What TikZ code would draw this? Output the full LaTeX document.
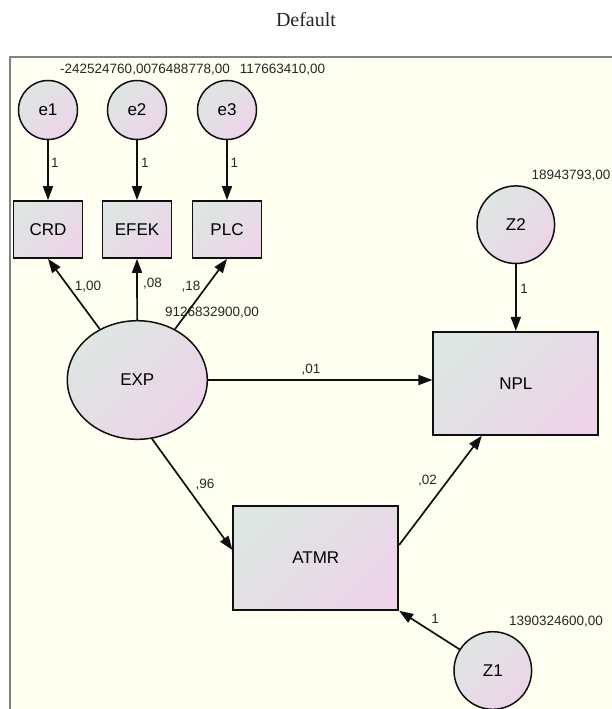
\documentclass[tikz,border=0pt]{standalone}
\usepackage{fontspec}
\setmainfont{Liberation Sans}
\newfontfamily\serifdef{Liberation Serif}
\usetikzlibrary{arrows.meta,shapes.geometric}
\definecolor{gA}{RGB}{221,230,226}
\definecolor{gB}{RGB}{237,212,233}
\definecolor{bgc}{RGB}{255,255,241}
\definecolor{framec}{RGB}{130,130,130}
\definecolor{lblc}{RGB}{40,40,40}
\definecolor{linec}{RGB}{15,15,15}
\begin{document}
\begin{tikzpicture}[x=1pt,y=-1pt,
  shadefill/.style={top color=gA,bottom color=gB,shading angle=45},
  obsbox/.style={rectangle,draw=linec,line width=1.7pt,shadefill,font=\fontsize{17}{20}\selectfont,inner sep=0pt},
  latcirc/.style={circle,draw=linec,line width=1.5pt,shadefill,font=\fontsize{17}{20}\selectfont,inner sep=0pt},
  latell/.style={ellipse,draw=linec,line width=1.5pt,shadefill,font=\fontsize{17}{20}\selectfont,inner sep=0pt},
  conn/.style={-{Triangle[length=14pt,width=10pt]},line width=1.7pt,draw=linec},
  lbl/.style={font=\fontsize{13.5}{15}\selectfont,text=lblc,inner sep=0pt}
]
\useasboundingbox (0,0) rectangle (612,709);
\fill[white] (0,0) rectangle (612,709);
\fill[bgc] (10,57) rectangle (612,709);
\draw[framec,line width=1.2pt] (10,709) -- (10,57) -- (612,57);

\node[font=\serifdef\fontsize{20}{24}\selectfont,text=black!85] (title) at (306,20) {Default};

% error circles
\node[latcirc,minimum size=59pt] (e1) at (48,110) {e1};
\node[latcirc,minimum size=59pt] (e2) at (137,110) {e2};
\node[latcirc,minimum size=59pt] (e3) at (227,110) {e3};

% indicator boxes
\node[obsbox,minimum width=69pt,minimum height=57pt] (CRD) at (48,229.5) {CRD};
\node[obsbox,minimum width=69pt,minimum height=57pt] (EFEK) at (137,229.5) {EFEK};
\node[obsbox,minimum width=69pt,minimum height=57pt] (PLC) at (227,229.5) {PLC};

% latent
\node[latell,minimum width=140pt,minimum height=118.6pt] (EXP) at (137.3,380) {EXP};

% outcomes
\node[obsbox,minimum width=165pt,minimum height=103pt] (NPL) at (515.8,383.3) {NPL};
\node[obsbox,minimum width=165pt,minimum height=104pt] (ATMR) at (315.8,558) {ATMR};

% disturbances
\node[latcirc,minimum size=77.6pt] (Z2) at (515.8,224.7) {Z2};
\node[latcirc,minimum size=77.6pt] (Z1) at (492.8,670.5) {Z1};

% variance labels
\node[lbl,anchor=west] (v1) at (60,70) {-242524760,00};
\node[lbl,anchor=east] (v2) at (230,70) {76488778,00};
\node[lbl] (v3) at (282.5,70) {117663410,00};
\node[lbl] (vexp) at (212,313) {9126832900,00};
\node[lbl] (vz2) at (571,176) {18943793,00};
\node[lbl] (vz1) at (556,622) {1390324600,00};

% connectors
\draw[conn] (e1) -- (CRD.north);
\draw[conn] (e2) -- (EFEK.north);
\draw[conn] (e3) -- (PLC.north);
\draw[conn] (EXP) -- (CRD.south);
\draw[conn] (EXP) -- (EFEK.south);
\draw[conn] (EXP) -- (PLC.south);
\draw[conn] (EXP.east) -- (EXP.east -| NPL.west);
\draw[conn] (EXP.-76) -- ([yshift=8pt]ATMR.west);
\draw[conn] ([yshift=13pt]ATMR.east) -- ([xshift=-34pt]NPL.south);
\draw[conn] (Z2) -- (NPL.north);
\draw[conn] (Z1) -- (ATMR.south east);

% path labels
\node[lbl] (l1) at (55,163) {1};
\node[lbl] (l2) at (145,163) {1};
\node[lbl] (l3) at (234.5,163) {1};
\node[lbl] (lcrd) at (88,287) {1,00};
\node[lbl] (lefek) at (152.5,283.5) {,08};
\node[lbl] (lplc) at (191,287) {,18};
\node[lbl] (lnpl) at (311,369.5) {,01};
\node[lbl] (latmr) at (205,485) {,96};
\node[lbl] (lan) at (427.5,480.5) {,02};
\node[lbl] (lz1) at (435,619) {1};
\node[lbl] (lz2) at (524,288.5) {1};
\end{tikzpicture}
\end{document}
